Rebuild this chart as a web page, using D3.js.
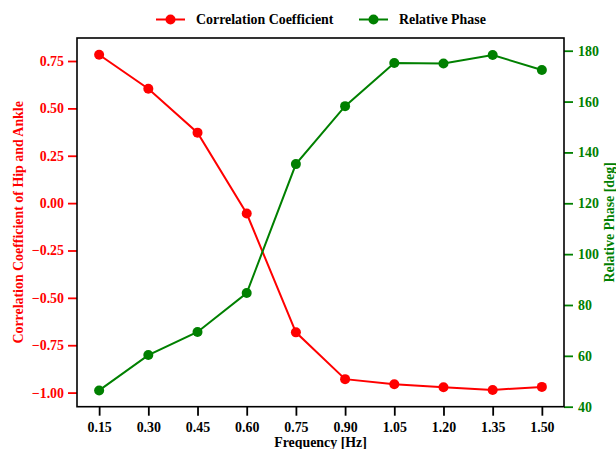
<!DOCTYPE html>
<html>
<head>
<meta charset="utf-8">
<script src="https://cdn.jsdelivr.net/npm/d3@7"></script>
<style>
  html, body { margin: 0; padding: 0; background: #fff; }
  svg { display: block; }
  text { font-family: "Liberation Serif", "Times New Roman", serif; font-weight: bold; }
</style>
</head>
<body>
<svg id="chart" width="616" height="449"></svg>
<script>
const frequencies = [0.15, 0.30, 0.45, 0.60, 0.75, 0.90, 1.05, 1.20, 1.35, 1.50];
const correlation = [0.783, 0.604, 0.372, -0.055, -0.682, -0.929, -0.956, -0.972, -0.986, -0.970];
const relativePhase = [46.4, 60.3, 69.4, 84.7, 135.4, 158.2, 175.2, 175.0, 178.3, 172.4];
const xTicks = [0.15, 0.30, 0.45, 0.60, 0.75, 0.90, 1.05, 1.20, 1.35, 1.50];
const leftTicks = [-1.00, -0.75, -0.50, -0.25, 0.00, 0.25, 0.50, 0.75];
const rightTicks = [40, 60, 80, 100, 120, 140, 160, 180];
const rightDomain = [40, 185];

const RED = "#ff0000", GREEN = "#008000";
const FS = "13.9px";

const svg = d3.select("#chart");
const m = { left: 77, right: 52, top: 38, bottom: 42.3 };
const W = 616, H = 449;
const iw = W - m.left - m.right, ih = H - m.top - m.bottom;

const pad = (lo, hi) => { const d = (hi - lo) * 0.05; return [lo - d, hi + d]; };
const x = d3.scaleLinear().domain(pad(d3.min(frequencies), d3.max(frequencies))).range([0, iw]);
const yL = d3.scaleLinear().domain(pad(d3.min(correlation), d3.max(correlation))).range([ih, 0]);
const yR = d3.scaleLinear().domain(rightDomain).range([ih, 0]);

const g = svg.append("g").attr("transform", `translate(${m.left},${m.top})`);

// axes
const xAxis = g.append("g").attr("transform", `translate(0,${ih})`)
  .call(d3.axisBottom(x).tickValues(xTicks).tickFormat(d3.format(".2f")).tickSize(9).tickPadding(6));
xAxis.selectAll("text").attr("fill", "#000").style("font-size", FS);
xAxis.selectAll("line").attr("stroke", "#000").attr("stroke-width", 1.8);

const lAxis = g.append("g")
  .call(d3.axisLeft(yL).tickValues(leftTicks).tickFormat(d => d3.format(".2f")(d).replace("-", "\u2212")).tickSize(9).tickPadding(4));
lAxis.selectAll("text").attr("fill", RED).style("font-size", FS);
lAxis.selectAll("line").attr("stroke", RED).attr("stroke-width", 1.8);

const rAxis = g.append("g").attr("transform", `translate(${iw},0)`)
  .call(d3.axisRight(yR).tickValues(rightTicks).tickFormat(d3.format("d")).tickSize(9).tickPadding(5));
rAxis.selectAll("text").attr("fill", GREEN).style("font-size", FS);
rAxis.selectAll("line").attr("stroke", GREEN).attr("stroke-width", 1.8);

[xAxis, lAxis, rAxis].forEach(a => a.select(".domain").remove());

// frame
g.append("rect").attr("x", 0).attr("y", 0).attr("width", iw).attr("height", ih)
  .attr("fill", "none").attr("stroke", "#000").attr("stroke-width", 1.6);

// series
const redLine = d3.line().x((d, i) => x(frequencies[i])).y(d => yL(d));
const greenLine = d3.line().x((d, i) => x(frequencies[i])).y(d => yR(d));

g.append("path").datum(correlation).attr("d", redLine)
  .attr("fill", "none").attr("stroke", RED).attr("stroke-width", 2);
g.selectAll(".rdot").data(correlation).join("circle").attr("class", "rdot")
  .attr("cx", (d, i) => x(frequencies[i])).attr("cy", d => yL(d)).attr("r", 5).attr("fill", RED);

g.append("path").datum(relativePhase).attr("d", greenLine)
  .attr("fill", "none").attr("stroke", GREEN).attr("stroke-width", 2);
g.selectAll(".gdot").data(relativePhase).join("circle").attr("class", "gdot")
  .attr("cx", (d, i) => x(frequencies[i])).attr("cy", d => yR(d)).attr("r", 5).attr("fill", GREEN);

// axis labels
svg.append("text").attr("x", m.left + iw / 2).attr("y", 447).attr("text-anchor", "middle")
  .style("font-size", FS).attr("fill", "#000").text("Frequency [Hz]");
svg.append("text").attr("transform", `translate(23,${m.top + ih / 2}) rotate(-90)`)
  .attr("text-anchor", "middle").style("font-size", FS).attr("fill", RED)
  .text("Correlation Coefficient of Hip and Ankle");
svg.append("text").attr("transform", `translate(614,${m.top + ih / 2}) rotate(-90)`)
  .attr("text-anchor", "middle").style("font-size", FS).attr("fill", GREEN)
  .text("Relative Phase [deg]");

// legend
const legend = [
  { label: "Correlation Coefficient", color: RED, x: 156 },
  { label: "Relative Phase", color: GREEN, x: 359 }
];
const lg = svg.append("g");
legend.forEach(item => {
  lg.append("line").attr("x1", item.x).attr("x2", item.x + 29).attr("y1", 19.5).attr("y2", 19.5)
    .attr("stroke", item.color).attr("stroke-width", 2);
  lg.append("circle").attr("cx", item.x + 14.5).attr("cy", 19.5).attr("r", 5).attr("fill", item.color);
  lg.append("text").attr("x", item.x + 40).attr("y", 24.3).style("font-size", FS)
    .attr("fill", "#000").text(item.label);
});
</script>
</body>
</html>
